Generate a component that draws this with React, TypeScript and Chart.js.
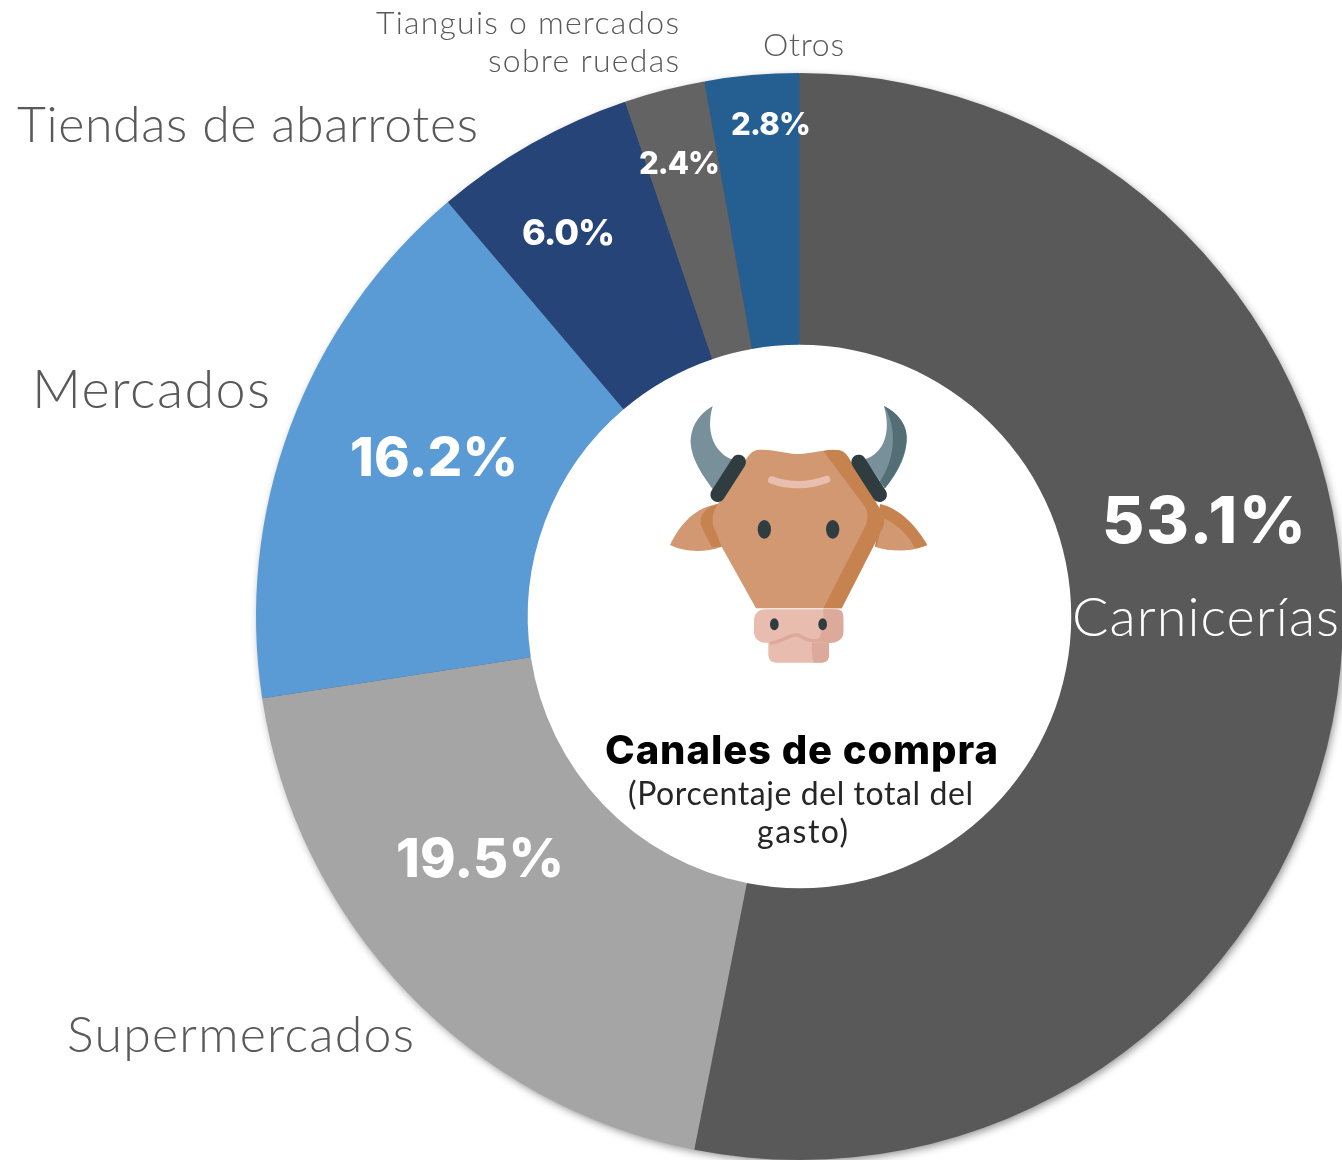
import React, { useEffect, useRef } from "react";
import { Chart, registerables } from "chart.js";

Chart.register(...registerables);

const categories = ["Carnicerías", "Supermercados", "Mercados", "Tiendas de abarrotes", "Tianguis o mercados sobre ruedas", "Otros"];
const shares = [53.1, 19.5, 16.2, 6.0, 2.4, 2.8];
const sliceColors = ["#595959", "#A5A5A5", "#5B9BD5", "#264478", "#636363", "#255E91"];
const categoryLines = [["Carnicerías"], ["Supermercados"], ["Mercados"], ["Tiendas de abarrotes"], ["Tianguis o mercados", "sobre ruedas"], ["Otros"]];
const centerTitle = "Canales de compra";
const centerNote = ["(Porcentaje del total del", "gasto)"];

const LIGHT = "Lato";
const HEAVY = "Inter";
const GREY = "#595959";

// Layout only: left edge, baseline, font size and the width each text occupies.
const percentPlacement = [
  { x: 1102, y: 543, size: 65, w: 204 },
  { x: 396, y: 877, size: 54, w: 168 },
  { x: 350, y: 476, size: 54, w: 168 },
  { x: 522, y: 245, size: 36, w: 93 },
  { x: 639, y: 174, size: 31, w: 81 },
  { x: 731, y: 135, size: 31, w: 80 },
];
const namePlacement = [
  [{ x: 1072, y: 636, size: 54, w: 267, color: "#FFFFFF" }],
  [{ x: 67, y: 1052, size: 50, w: 347, color: GREY }],
  [{ x: 32, y: 408, size: 54, w: 238, color: GREY }],
  [{ x: 17, y: 142, size: 50, w: 461, color: GREY }],
  [
    { x: 376, y: 34, size: 32, w: 303, color: GREY },
    { x: 488, y: 72, size: 32, w: 191, color: GREY },
  ],
  [{ x: 763, y: 56, size: 32, w: 81, color: GREY }],
];
const titlePlacement = { x: 605, y: 764, size: 40, w: 393 };
const notePlacement = [
  { x: 628, y: 805, size: 32, w: 345 },
  { x: 757, y: 843, size: 32, w: 91 },
];

function fitText(ctx: any, text: string, p: { x: number; y: number; w: number }) {
  ctx.letterSpacing = "0px";
  const measured = ctx.measureText(text).width;
  ctx.letterSpacing = `${(p.w - measured) / Math.max(1, text.length - 1)}px`;
  ctx.fillText(text, p.x, p.y);
  ctx.letterSpacing = "0px";
}

const textPlugin = {
  id: "chartText",
  beforeDatasetsDraw(chart: any) {
    const arc = chart.getDatasetMeta(0).data[0];
    const { ctx } = chart;
    ctx.save();
    ctx.shadowColor = "rgba(0,0,0,0.45)";
    ctx.shadowBlur = 9;
    ctx.shadowOffsetX = 2;
    ctx.shadowOffsetY = 3;
    ctx.fillStyle = "#595959";
    ctx.beginPath();
    ctx.arc(arc.x, arc.y, arc.outerRadius - 1, 0, Math.PI * 2);
    ctx.fill();
    ctx.shadowColor = "transparent";
    ctx.fillStyle = "#FFFFFF";
    ctx.beginPath();
    ctx.arc(arc.x, arc.y, arc.innerRadius + 1, 0, Math.PI * 2);
    ctx.fill();
    ctx.restore();
  },
  afterDatasetsDraw(chart: any) {
    const { ctx } = chart;
    ctx.save();
    ctx.textBaseline = "alphabetic";
    ctx.textAlign = "left";
    categoryLines.forEach((lines, i) => {
      lines.forEach((line, j) => {
        const p = namePlacement[i][j];
        ctx.font = `300 ${p.size}px ${LIGHT}`;
        ctx.fillStyle = p.color;
        fitText(ctx, line, p);
      });
    });
    ctx.fillStyle = "#FFFFFF";
    shares.forEach((v, i) => {
      const p = percentPlacement[i];
      ctx.font = `800 ${p.size}px ${HEAVY}`;
      fitText(ctx, `${v.toFixed(1)}%`, p);
    });
    ctx.fillStyle = "#000000";
    ctx.font = `800 ${titlePlacement.size}px ${HEAVY}`;
    fitText(ctx, centerTitle, titlePlacement);
    ctx.fillStyle = "#262626";
    centerNote.forEach((line, i) => {
      const p = notePlacement[i];
      ctx.font = `400 ${p.size}px ${LIGHT}`;
      fitText(ctx, line, p);
    });
    ctx.restore();
  },
};

function CowIcon() {
  const dark = "#2F3D40";
  const skin = "#D19872";
  const shade = "#C6834F";
  const nose = "#E8BCAE";
  const noseShade = "#DDA99B";
  return (
    <svg viewBox="0 0 900 870" width={300} height={290} style={{ position: "absolute", left: 650, top: 390, filter: "blur(0.4px)" }}>
      <path d="M188,48 C140,75 120,120 122,160 C125,210 160,260 190,300 L250,210 C195,190 165,130 188,48 Z" fill="#78909A" />
      <path d="M702,48 C725,130 700,190 645,208 L705,295 C750,240 772,190 770,140 C768,100 740,65 702,48 Z" fill="#78909A" />
      <path d="M702,48 C745,70 770,105 770,140 C770,200 735,255 705,295 L690,275 C745,190 735,100 702,48 Z" fill="#546E75" />
      <path d="M60,465 C90,400 140,350 205,342 L215,470 C160,490 100,485 60,465 Z" fill={skin} />
      <path d="M205,342 C160,350 145,390 155,410 L185,472 L215,470 Z" fill={shade} />
      <path d="M690,342 C750,355 800,410 832,465 C790,485 720,485 675,470 Z" fill={shade} />
      <path d="M700,385 C740,400 780,440 795,477 C750,485 710,480 680,470 Z" fill={skin} />
      <path d="M320,180 C370,175 420,195 450,192 C480,190 520,180 560,180 C585,180 590,195 600,210 L695,365 C710,395 700,410 690,430 L575,655 L318,655 L215,470 L195,420 C180,390 190,365 205,340 L290,205 C300,190 310,182 320,180 Z" fill={skin} />
      <path d="M520,183 C555,175 585,178 600,210 L695,365 C710,395 700,410 690,430 L575,655 L520,655 L645,410 C655,390 655,370 645,350 Z" fill={shade} />
      <path d="M266,216 L203,314" stroke={dark} strokeWidth={44} strokeLinecap="round" />
      <path d="M626,216 L689,314" stroke={dark} strokeWidth={44} strokeLinecap="round" />
      <path d="M365,270 C420,290 470,290 530,268" stroke="#E8BFAE" strokeWidth={22} strokeLinecap="round" fill="none" />
      <ellipse cx={343} cy={418} rx={20} ry={28} fill={dark} />
      <ellipse cx={548} cy={418} rx={20} ry={28} fill={dark} />
      <rect x={355} y={720} width={182} height={98} rx={22} fill={nose} />
      <path d="M490,745 H537 V796 Q537,818 515,818 H490 Q480,780 490,745 Z" fill={noseShade} />
      <rect x={312} y={658} width={268} height={100} rx={32} fill={nose} />
      <path d="M520,658 H560 Q580,658 580,680 V725 Q580,755 540,758 H500 Q525,720 520,658 Z" fill={noseShade} />
      <path d="M360,760 C400,755 420,730 445,735 C470,750 490,760 520,745" stroke={noseShade} strokeWidth={10} fill="none" />
      <ellipse cx={373} cy={703} rx={13} ry={18} fill={dark} />
      <ellipse cx={518} cy={703} rx={13} ry={18} fill={dark} />
    </svg>
  );
}

export default function App() {
  const ref = useRef<HTMLCanvasElement>(null);
  useEffect(() => {
    const chart = new Chart(ref.current as HTMLCanvasElement, {
      type: "doughnut",
      data: {
        labels: categories,
        datasets: [{ data: shares, backgroundColor: sliceColors, borderWidth: 0 }],
      },
      options: {
        responsive: false,
        animation: false,
        cutout: "50%",
        layout: { padding: { left: 256, right: 1, top: 73, bottom: 0 } },
        plugins: { legend: { display: false }, tooltip: { enabled: false } },
      },
      plugins: [textPlugin],
    } as any);
    return () => chart.destroy();
  }, []);
  return (
    <div style={{ position: "absolute", left: 0, top: 0, width: 1342, height: 1160, background: "#fff", overflow: "hidden" }}>
      <canvas ref={ref} width={1344} height={1160} style={{ display: "block" }} />
      <CowIcon />
    </div>
  );
}
